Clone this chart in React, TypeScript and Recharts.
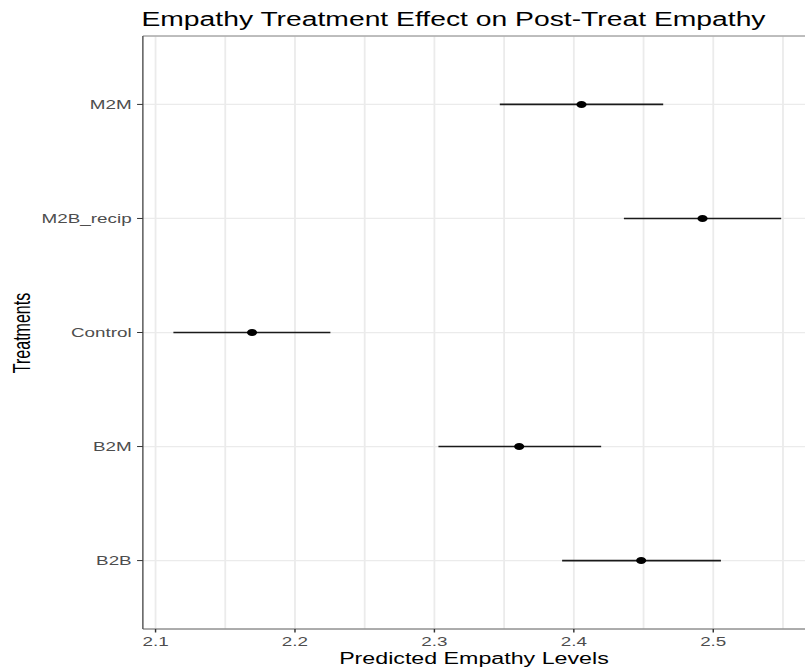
import React from 'react';
import { ScatterChart, Scatter, XAxis, YAxis, CartesianGrid, ErrorBar, ReferenceLine } from 'recharts';

const treatments = ['B2B', 'B2M', 'Control', 'M2B_recip', 'M2M'];
const estimates = [2.4483, 2.3608, 2.1692, 2.4923, 2.4055];
const lowers = [2.3916, 2.3029, 2.1128, 2.4359, 2.3469];
const uppers = [2.5055, 2.4196, 2.2254, 2.5487, 2.4641];
const xTicks = [2.1, 2.2, 2.3, 2.4, 2.5];
const xGrid = [2.1, 2.15, 2.2, 2.25, 2.3, 2.35, 2.4, 2.45, 2.5, 2.55];
const yPositions = [0, 1, 2, 3, 4];

const data = treatments.map((t, i) => ({
  name: t,
  pos: yPositions[i],
  est: estimates[i],
  err: [estimates[i] - lowers[i], uppers[i] - estimates[i]],
}));

const FONT = '"Liberation Sans", Arial, Helvetica, sans-serif';
const INNER_W = 555;
const H = 669;
const SX = 805 / INNER_W;

const Dot = (props: any) => {
  const { cx, cy } = props;
  return <circle cx={cx} cy={cy} r={3.5} fill="#000" />;
};

export default function App() {
  return (
    <div
      style={{
        position: 'absolute',
        left: 0,
        top: 0,
        width: INNER_W,
        height: H,
        transform: `scaleX(${SX})`,
        transformOrigin: '0 0',
        background: '#fff',
        fontFamily: FONT,
      }}
    >
      <div
        style={{
          position: 'absolute',
          left: 97.5,
          top: 8.2,
          fontSize: 19.5,
          lineHeight: '22px',
          color: '#000',
          whiteSpace: 'nowrap',
        }}
      >
        Empathy Treatment Effect on Post-Treat Empathy
      </div>
      <ScatterChart
        width={INNER_W}
        height={H}
        margin={{ top: 36, right: 0, bottom: 0, left: 0 }}
      >
        <CartesianGrid stroke="#ebebeb" strokeWidth={1.25} verticalValues={xGrid} />
        <XAxis
          type="number"
          dataKey="est"
          domain={[2.0909, 2.5658]}
          allowDataOverflow
          ticks={xTicks}
          interval={0}
          tickFormatter={(v: number) => v.toFixed(1)}
          height={40}
          tickSize={3.5}
          tickMargin={4.5}
          axisLine={{ stroke: '#666', strokeWidth: 1 }}
          tickLine={{ stroke: '#333', strokeWidth: 1 }}
          tick={{ fill: '#4d4d4d', fontSize: 13, fontFamily: FONT }}
        />
        <YAxis
          type="number"
          dataKey="pos"
          domain={[-0.6, 4.6]}
          allowDataOverflow
          ticks={yPositions}
          interval={0}
          tickFormatter={(v: number) => treatments[v] ?? ''}
          width={98.5}
          tickSize={4}
          tickMargin={3.7}
          axisLine={{ stroke: '#555', strokeWidth: 1 }}
          tickLine={{ stroke: '#333', strokeWidth: 1 }}
          tick={{ fill: '#4d4d4d', fontSize: 13, fontFamily: FONT }}
        />
        <ReferenceLine y={4.6} stroke="#888" strokeWidth={1} />
        <Scatter data={data} shape={Dot} isAnimationActive={false}>
          <ErrorBar
            dataKey="err"
            direction="x"
            width={0}
            stroke="#1a1a1a"
            strokeWidth={1.6}
            isAnimationActive={false}
          />
        </Scatter>
      </ScatterChart>
      <div
        style={{
          position: 'absolute',
          left: 98.5,
          width: INNER_W - 98.5,
          top: 649.5,
          fontSize: 16,
          lineHeight: '18px',
          textAlign: 'center',
          color: '#000',
          whiteSpace: 'nowrap',
        }}
      >
        Predicted Empathy Levels
      </div>
      <div
        style={{
          position: 'absolute',
          left: 15.9,
          top: 332.5,
          fontSize: 16,
          lineHeight: '18px',
          color: '#000',
          whiteSpace: 'nowrap',
          transform: 'translate(-50%, -50%) rotate(-90deg)',
        }}
      >
        Treatments
      </div>
    </div>
  );
}
